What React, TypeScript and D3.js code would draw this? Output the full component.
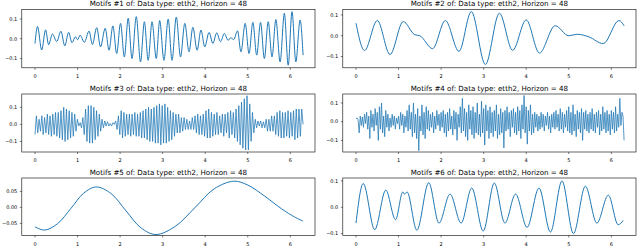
import React from "react";
import * as d3 from "d3";

const TITLES = [
  "Motifs #1 of: Data type: etth2, Horizon = 48",
  "Motifs #2 of: Data type: etth2, Horizon = 48",
  "Motifs #3 of: Data type: etth2, Horizon = 48",
  "Motifs #4 of: Data type: etth2, Horizon = 48",
  "Motifs #5 of: Data type: etth2, Horizon = 48",
  "Motifs #6 of: Data type: etth2, Horizon = 48",
];

const X_TICKS = [0, 1, 2, 3, 4, 5, 6];
const Y_TICKS_A = [-0.1, 0, 0.1];
const Y_TICKS_B = [-0.05, 0, 0.05];

// Motif 1 (turning points)
const M1_X = [0, 0.06, 0.157, 0.25, 0.32, 0.41, 0.51, 0.61, 0.7, 0.79, 0.87, 0.95, 1.0, 1.06, 1.16, 1.27, 1.35, 1.45, 1.54, 1.65, 1.74, 1.83, 1.92, 2.01, 2.1, 2.19, 2.28, 2.38, 2.48, 2.57, 2.66, 2.75, 2.85, 2.93, 3.03, 3.13, 3.22, 3.32, 3.42, 3.52, 3.62, 3.71, 3.81, 3.9, 3.99, 4.09, 4.18, 4.27, 4.36, 4.45, 4.54, 4.6, 4.67, 4.76, 4.84, 4.94, 5.03, 5.12, 5.21, 5.3, 5.39, 5.48, 5.57, 5.66, 5.76, 5.86, 5.95, 6.04, 6.13, 6.23, 6.3];
const M1_Y = [-0.024, 0.062, -0.057, 0.045, -0.03, 0.024, -0.014, 0.038, -0.036, 0.032, -0.02, 0.01, -0.005, 0.018, -0.018, 0.039, -0.029, 0.056, -0.041, 0.053, -0.058, 0.065, -0.075, 0.078, -0.092, 0.104, -0.1, 0.112, -0.117, 0.086, -0.109, 0.086, -0.1, 0.092, -0.109, 0.1, -0.109, 0.11, -0.092, 0.078, -0.066, 0.058, -0.058, 0.044, -0.041, 0.032, -0.024, 0.03, -0.015, 0.027, -0.008, 0.005, -0.004, 0.04, -0.066, 0.078, -0.075, 0.083, -0.083, 0.083, -0.1, 0.086, -0.092, 0.097, -0.117, 0.129, -0.134, 0.137, -0.117, 0.095, -0.083];

// Motif 2 (turning points)
const M2_X = [0, 0.2, 0.5, 0.8, 1.11, 1.38, 1.5, 1.8, 2.1, 2.42, 2.71, 3.04, 3.37, 3.68, 4.0, 4.31, 4.68, 5.0, 5.2, 5.48, 5.81, 6.18, 6.3];
const M2_Y = [0.06, -0.071, 0.073, -0.09, 0.068, 0.005, 0.0, -0.062, 0.073, -0.075, 0.116, -0.138, 0.108, -0.07, 0.076, -0.083, 0.048, 0.0, 0.007, -0.006, -0.038, 0.073, 0.048];

// Motif 3 (samples, evenly spaced over [0, 6.3])
const M3_END = 6.3;
const M3_Y = [
  -0.06, 0.05, -0.05, 0.03, -0.04, 0.05, -0.06, 0.04, -0.05, 0.06, -0.06, 0.05, -0.07, 0.06, -0.06, 0.07,
  -0.07, 0.07, -0.08, 0.08, -0.09, 0.1, -0.1, 0.09, -0.09, 0.08, -0.08, 0.07, -0.07, 0.06, -0.04, 0.03,
  -0.01, 0.01, -0.02, 0.04, -0.06, 0.09, -0.1, 0.11, -0.11, 0.11, -0.11, 0.1, -0.09, 0.08, -0.07, 0.06,
  -0.04, 0.03, -0.02, 0.02, -0.01, 0.015, -0.01, 0.005, -0.01, 0.01, 0.0, 0.02, -0.03, 0.05, -0.06, 0.08,
  -0.08, 0.07, -0.07, 0.06, -0.06, 0.06, -0.07, 0.06, -0.06, 0.07, -0.07, 0.06, -0.07, 0.07, -0.08, 0.08,
  -0.08, 0.09, -0.09, 0.1, -0.1, 0.09, -0.1, 0.1, -0.11, 0.11, -0.11, 0.12, -0.12, 0.11, -0.11, 0.12,
  -0.11, 0.1, -0.1, 0.08, -0.09, 0.07, -0.07, 0.06, -0.05, 0.06, -0.05, 0.04, -0.04, 0.04, -0.03, 0.03,
  -0.03, 0.02, -0.03, 0.04, -0.03, 0.05, -0.05, 0.06, -0.06, 0.05, -0.06, 0.06, -0.07, 0.08, -0.08, 0.09,
  -0.08, 0.07, -0.07, 0.06, -0.06, 0.07, -0.06, 0.05, -0.05, 0.06, -0.07, 0.06, -0.05, 0.07, -0.08, 0.08,
  -0.06, 0.07, -0.08, 0.09, -0.1, 0.11, -0.12, 0.13, -0.14, 0.15, -0.15, 0.168, -0.15, 0.12, -0.1, 0.07,
  -0.05, 0.03, -0.02, 0.02, -0.01, 0.02, -0.02, 0.015, -0.02, 0.03, -0.04, 0.03, -0.04, 0.05, -0.04, 0.05,
  -0.06, 0.07, -0.07, 0.08, -0.08, 0.07, -0.08, 0.07, -0.07, 0.08, -0.08, 0.07, -0.07, 0.08, -0.09, 0.09,
  -0.08, 0.09, -0.07, 0.09, 0.0,
];

// Motif 4 (samples, evenly spaced over [0, 6.3])
const M4_END = 6.3;
const M4_Y = [
  0.015, 0.02, 0.01, -0.06, 0.03, -0.02, 0.025, -0.03, 0.04, -0.01,
  0.05, -0.04, 0.03, -0.09, 0.06, -0.03, 0.04, -0.05, 0.07, -0.02,
  0.05, -0.1, 0.08, -0.04, 0.1, -0.06, 0.03, -0.08, 0.06, -0.03,
  0.04, -0.05, 0.02, -0.03, 0.04, -0.02, 0.03, -0.04, 0.02, -0.01,
  0.03, -0.04, 0.05, -0.02, 0.04, -0.06, 0.03, -0.03, 0.06, -0.05,
  0.09, -0.04, 0.05, -0.08, 0.1, -0.06, 0.04, -0.09, 0.07, -0.155,
  0.03, -0.05, 0.09, -0.07, 0.05, -0.09, 0.08, -0.04, 0.06, -0.05,
  0.04, -0.03, 0.05, -0.06, 0.03, -0.04, 0.06, -0.02, 0.04, -0.05,
  0.05, -0.03, 0.06, -0.06, 0.04, -0.08, 0.05, -0.05, 0.07, -0.04,
  0.03, -0.07, 0.06, -0.04, 0.05, -0.1, 0.04, -0.03, 0.08, -0.06,
  0.125, -0.05, 0.07, -0.08, 0.05, -0.1, 0.09, -0.04, 0.06, -0.07,
  0.08, -0.09, 0.05, -0.06, 0.1, -0.07, 0.04, -0.08, 0.11, -0.06,
  0.07, -0.125, 0.09, -0.05, 0.06, -0.09, 0.08, -0.06, 0.05, -0.08,
  0.06, -0.05, 0.09, -0.09, 0.04, -0.07, 0.07, -0.06, 0.05, -0.14,
  0.06, -0.05, 0.08, -0.04, 0.05, -0.08, 0.06, -0.03, 0.07, -0.06,
  0.05, -0.07, 0.08, -0.05, 0.06, -0.09, 0.09, -0.04, 0.14, -0.06,
  0.08, -0.12, 0.06, -0.05, 0.09, -0.07, 0.04, -0.06, 0.05, -0.03,
  0.04, -0.05, 0.03, -0.04, 0.05, -0.03, 0.04, -0.05, 0.03, -0.02,
  0.05, -0.04, 0.03, -0.06, 0.04, -0.03, 0.05, -0.04, 0.06, -0.03,
  0.04, -0.05, 0.07, -0.04, 0.05, -0.06, 0.04, -0.03, 0.06, -0.05,
  0.08, -0.06, 0.05, -0.07, 0.09, -0.05, 0.04, -0.08, 0.06, -0.04,
  0.05, -0.06, 0.07, -0.1, 0.05, -0.04, 0.06, -0.05, 0.04, -0.06,
  0.05, -0.04, 0.07, -0.05, 0.04, -0.06, 0.05, -0.03, 0.06, -0.07,
  0.04, -0.05, 0.08, -0.04, 0.05, -0.06, 0.06, -0.05, 0.04, -0.07,
  0.06, -0.04, 0.05, -0.06, 0.08, -0.05, 0.04, -0.03, 0.125, -0.02,
  0.05, 0.03, -0.1,
];

// Motif 5
const M5_X = [0, 0.23, 0.53, 0.84, 1.14, 1.44, 1.79, 2.14, 2.49, 2.84, 3.3, 3.75, 4.21, 4.67, 5.0, 5.4, 5.8, 6.1, 6.3];
const M5_Y = [-0.061, -0.071, -0.051, -0.004, 0.044, 0.064, 0.043, -0.011, -0.064, -0.085, -0.059, -0.002, 0.058, 0.082, 0.07, 0.035, -0.005, -0.03, -0.043];

// Motif 6 (turning points)
const M6_X = [0, 0.17, 0.44, 0.7, 0.93, 1.1, 1.14, 1.2, 1.43, 1.71, 1.95, 2.21, 2.47, 2.72, 2.99, 3.25, 3.5, 3.75, 4.02, 4.3, 4.57, 4.84, 5.11, 5.39, 5.66, 5.93, 6.16, 6.28];
const M6_Y = [-0.06, 0.09, -0.085, 0.065, -0.047, 0.058, 0.05, 0.058, -0.087, 0.093, -0.06, 0.05, -0.06, 0.073, -0.09, 0.092, -0.06, 0.05, -0.076, 0.073, -0.094, 0.1, -0.1, 0.08, -0.06, 0.046, -0.066, -0.05];

type Pt = [number, number];

const zipXY = (xs: number[], ys: number[]): Pt[] => xs.map((x, i) => [x, ys[i]]);
const evenly = (ys: number[], end: number): Pt[] =>
  ys.map((y, i) => [(i * end) / (ys.length - 1), y]);

const PANELS = [
  { title: TITLES[0], data: zipXY(M1_X, M1_Y), yDom: [-0.147, 0.148], yTicks: Y_TICKS_A, fmt: ".1f", curve: d3.curveMonotoneX, sw: 1.0 },
  { title: TITLES[1], data: zipXY(M2_X, M2_Y), yDom: [-0.154, 0.126], yTicks: Y_TICKS_A, fmt: ".1f", curve: d3.curveMonotoneX, sw: 1.0 },
  { title: TITLES[2], data: evenly(M3_Y, M3_END), yDom: [-0.162, 0.178], yTicks: Y_TICKS_A, fmt: ".1f", curve: d3.curveLinear, sw: 0.75 },
  { title: TITLES[3], data: evenly(M4_Y, M4_END), yDom: [-0.162, 0.148], yTicks: Y_TICKS_A, fmt: ".1f", curve: d3.curveLinear, sw: 0.75 },
  { title: TITLES[4], data: zipXY(M5_X, M5_Y), yDom: [-0.088, 0.092], yTicks: Y_TICKS_B, fmt: ".2f", curve: d3.curveCatmullRom.alpha(0.5), sw: 1.0 },
  { title: TITLES[5], data: zipXY(M6_X, M6_Y), yDom: [-0.107, 0.111], yTicks: Y_TICKS_A, fmt: ".1f", curve: d3.curveMonotoneX, sw: 1.0 },
];

const COLS: [number, number][] = [[21.8, 315], [342.8, 636]];
const ROWS: [number, number][] = [[9.5, 67.8], [94.0, 152.0], [178, 235.5]];
const X_DOM: [number, number] = [-0.31, 6.58];
const FONT = "DejaVu Sans, sans-serif";

function Panel({ p, col, row, id }: { p: typeof PANELS[number]; col: [number, number]; row: [number, number]; id: number }) {
  const x = d3.scaleLinear().domain(X_DOM).range(col);
  const y = d3.scaleLinear().domain(p.yDom).range([row[1], row[0]]);
  const line = d3
    .line<Pt>()
    .x((d) => x(d[0]))
    .y((d) => y(d[1]))
    .curve(p.curve);
  const f = d3.format(p.fmt);
  const cx = (col[0] + col[1]) / 2;
  return (
    <g>
      <defs>
        <clipPath id={`clip-${id}`}>
          <rect x={col[0]} y={row[0]} width={col[1] - col[0]} height={row[1] - row[0]} />
        </clipPath>
      </defs>
      <path
        d={line(p.data) || ""}
        fill="none"
        stroke="#1f77b4"
        strokeWidth={p.sw}
        strokeLinejoin="round"
        clipPath={`url(#clip-${id})`}
      />
      <rect x={col[0]} y={row[0]} width={col[1] - col[0]} height={row[1] - row[0]} fill="none" stroke="#000" strokeWidth={0.6} />
      {X_TICKS.map((t) => (
        <g key={`x${t}`}>
          <line x1={x(t)} x2={x(t)} y1={row[1]} y2={row[1] + 2} stroke="#000" strokeWidth={0.5} />
          <text x={x(t)} y={row[1] + 10} fontSize={5} textAnchor="middle" fontFamily={FONT} fill="#000">
            {t}
          </text>
        </g>
      ))}
      {p.yTicks.map((t) => (
        <g key={`y${t}`}>
          <line x1={col[0] - 2} x2={col[0]} y1={y(t)} y2={y(t)} stroke="#000" strokeWidth={0.5} />
          <text x={col[0] - 4.5} y={y(t) + 1.8} fontSize={5} textAnchor="end" fontFamily={FONT} fill="#000">
            {f(t)}
          </text>
        </g>
      ))}
      <text x={cx} y={row[0] - 3.2} fontSize={7.1} textAnchor="middle" fontFamily={FONT} fill="#000">
        {p.title}
      </text>
    </g>
  );
}

export default function App() {
  return (
    <svg
      width={640}
      height={247}
      viewBox="0 0 640 247"
      style={{ position: "absolute", left: 0, top: 0, background: "#fff" }}
    >
      <rect x={0} y={0} width={640} height={247} fill="#fff" />
      {PANELS.map((p, i) => (
        <Panel key={i} id={i} p={p} col={COLS[i % 2]} row={ROWS[Math.floor(i / 2)]} />
      ))}
    </svg>
  );
}
